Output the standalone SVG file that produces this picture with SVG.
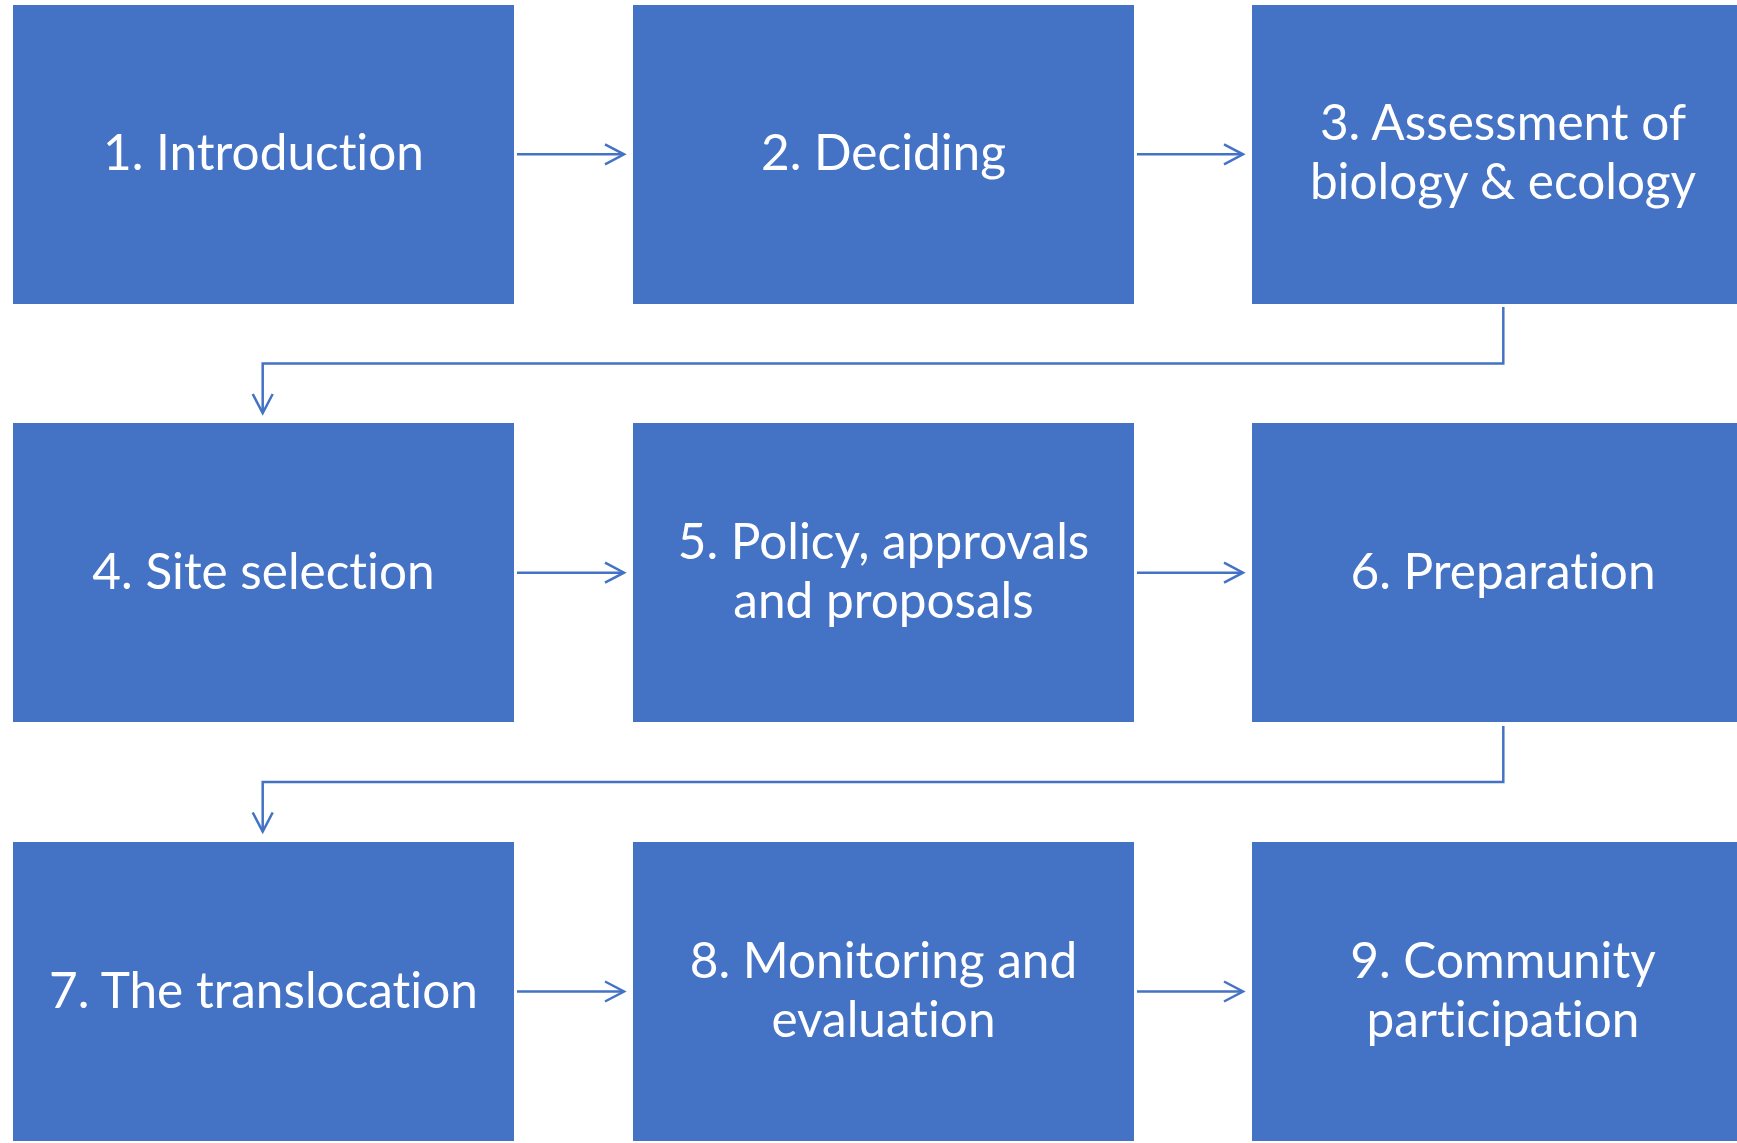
<svg xmlns="http://www.w3.org/2000/svg" width="1737" height="1143" viewBox="0 0 1737 1143">
<style>
.box{fill:#4472C4;}
.t{fill:#FFFFFF;font-family:Lato,"Open Sans",sans-serif;font-size:49.5px;text-anchor:middle;font-variant-ligatures:none;}
.c{fill:none;stroke:#4472C4;stroke-width:2.5;}
</style>
<defs>
<marker id="ah" markerUnits="userSpaceOnUse" markerWidth="24" markerHeight="24" viewBox="-20 -12 24 24" refX="0" refY="0" orient="auto">
<path d="M-19,-10 L0,0 L-19,10" fill="none" stroke="#4472C4" stroke-width="2.5"/>
</marker>
</defs>
<rect width="1737" height="1143" fill="#FFFFFF"/>
<g id="n1"><rect class="box" x="13" y="5" width="501" height="299"/><text class="t" x="263.5" y="169.5">1. Introduction</text></g>
<g id="n2"><rect class="box" x="633" y="5" width="501" height="299"/><text class="t" x="883.5" y="169.5">2. Deciding</text></g>
<g id="n3"><rect class="box" x="1252" y="5" width="485" height="299"/><text class="t" x="1503" y="139.5">3. Assessment of</text><text class="t" x="1503" y="198.5">biology &amp; ecology</text></g>
<g id="n4"><rect class="box" x="13" y="423" width="501" height="299"/><text class="t" x="263.5" y="588.5">4. Site selection</text></g>
<g id="n5"><rect class="box" x="633" y="423" width="501" height="299"/><text class="t" x="883.5" y="558.5">5. Policy, approvals</text><text class="t" x="883.5" y="617.5">and proposals</text></g>
<g id="n6"><rect class="box" x="1252" y="423" width="485" height="299"/><text class="t" x="1503" y="588.5">6. Preparation</text></g>
<g id="n7"><rect class="box" x="13" y="842" width="501" height="299"/><text class="t" x="263.5" y="1007.5">7. The translocation</text></g>
<g id="n8"><rect class="box" x="633" y="842" width="501" height="299"/><text class="t" x="883.5" y="977.5">8. Monitoring and</text><text class="t" x="883.5" y="1036.5">evaluation</text></g>
<g id="n9"><rect class="box" x="1252" y="842" width="485" height="299"/><text class="t" x="1503" y="977.5">9. Community</text><text class="t" x="1503" y="1036.5">participation</text></g>
<g id="connectors">
<path class="c" d="M517,154.3 H624" marker-end="url(#ah)"/>
<path class="c" d="M1137,154.3 H1243" marker-end="url(#ah)"/>
<path class="c" d="M1503.3,307 V363.5 H262.7 V413" marker-end="url(#ah)"/>
<path class="c" d="M517,572.7 H624" marker-end="url(#ah)"/>
<path class="c" d="M1137,572.7 H1243" marker-end="url(#ah)"/>
<path class="c" d="M1503.3,726 V782 H262.7 V831.5" marker-end="url(#ah)"/>
<path class="c" d="M517,991.5 H624" marker-end="url(#ah)"/>
<path class="c" d="M1137,991.5 H1243" marker-end="url(#ah)"/>
</g>
</svg>
